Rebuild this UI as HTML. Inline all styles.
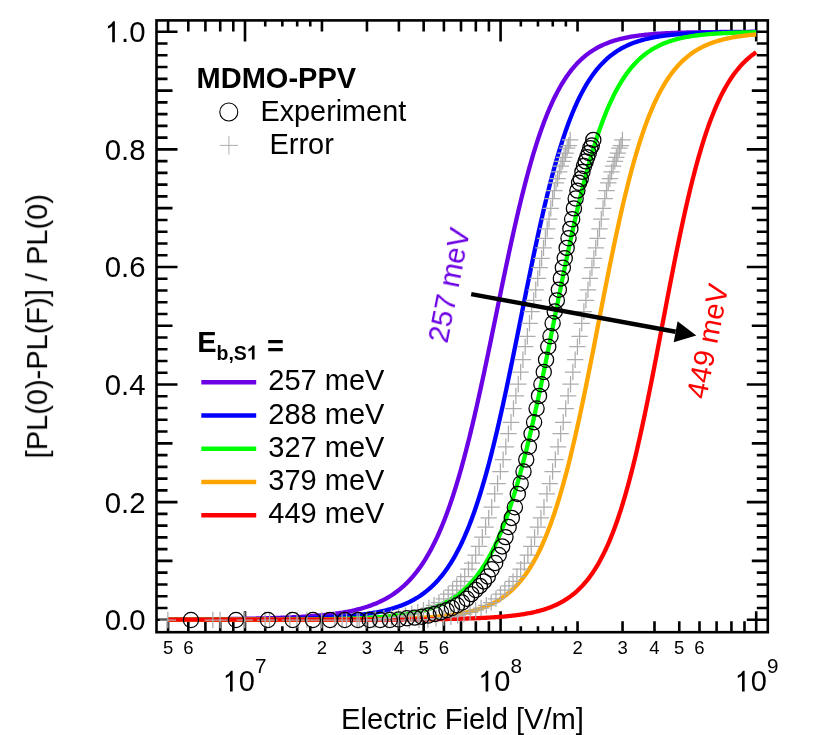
<!DOCTYPE html>
<html><head><meta charset="utf-8"><title>PL quenching</title>
<style>html,body{margin:0;padding:0;background:#fff;}svg{display:block;}</style>
</head><body>
<svg width="830" height="735" viewBox="0 0 830 735" font-family="'Liberation Sans', sans-serif">
<rect x="0" y="0" width="830" height="735" fill="#fff"/>
<rect x="156.5" y="20.4" width="611.3" height="611.8000000000001" fill="none" stroke="#000" stroke-width="2.6"/>
<path d="M156.5,619.70h21.0M767.8,619.70h-21.0M156.5,607.94h11.0M767.8,607.94h-11.0M156.5,596.18h11.0M767.8,596.18h-11.0M156.5,584.43h11.0M767.8,584.43h-11.0M156.5,572.67h11.0M767.8,572.67h-11.0M156.5,560.91h16.0M767.8,560.91h-16.0M156.5,549.15h11.0M767.8,549.15h-11.0M156.5,537.39h11.0M767.8,537.39h-11.0M156.5,525.64h11.0M767.8,525.64h-11.0M156.5,513.88h11.0M767.8,513.88h-11.0M156.5,502.12h21.0M767.8,502.12h-21.0M156.5,490.36h11.0M767.8,490.36h-11.0M156.5,478.60h11.0M767.8,478.60h-11.0M156.5,466.85h11.0M767.8,466.85h-11.0M156.5,455.09h11.0M767.8,455.09h-11.0M156.5,443.33h16.0M767.8,443.33h-16.0M156.5,431.57h11.0M767.8,431.57h-11.0M156.5,419.81h11.0M767.8,419.81h-11.0M156.5,408.06h11.0M767.8,408.06h-11.0M156.5,396.30h11.0M767.8,396.30h-11.0M156.5,384.54h21.0M767.8,384.54h-21.0M156.5,372.78h11.0M767.8,372.78h-11.0M156.5,361.02h11.0M767.8,361.02h-11.0M156.5,349.27h11.0M767.8,349.27h-11.0M156.5,337.51h11.0M767.8,337.51h-11.0M156.5,325.75h16.0M767.8,325.75h-16.0M156.5,313.99h11.0M767.8,313.99h-11.0M156.5,302.23h11.0M767.8,302.23h-11.0M156.5,290.48h11.0M767.8,290.48h-11.0M156.5,278.72h11.0M767.8,278.72h-11.0M156.5,266.96h21.0M767.8,266.96h-21.0M156.5,255.20h11.0M767.8,255.20h-11.0M156.5,243.44h11.0M767.8,243.44h-11.0M156.5,231.69h11.0M767.8,231.69h-11.0M156.5,219.93h11.0M767.8,219.93h-11.0M156.5,208.17h16.0M767.8,208.17h-16.0M156.5,196.41h11.0M767.8,196.41h-11.0M156.5,184.65h11.0M767.8,184.65h-11.0M156.5,172.90h11.0M767.8,172.90h-11.0M156.5,161.14h11.0M767.8,161.14h-11.0M156.5,149.38h21.0M767.8,149.38h-21.0M156.5,137.62h11.0M767.8,137.62h-11.0M156.5,125.86h11.0M767.8,125.86h-11.0M156.5,114.11h11.0M767.8,114.11h-11.0M156.5,102.35h11.0M767.8,102.35h-11.0M156.5,90.59h16.0M767.8,90.59h-16.0M156.5,78.83h11.0M767.8,78.83h-11.0M156.5,67.07h11.0M767.8,67.07h-11.0M156.5,55.32h11.0M767.8,55.32h-11.0M156.5,43.56h11.0M767.8,43.56h-11.0M156.5,31.80h21.0M767.8,31.80h-21.0M168.06,632.2v-11.0M168.06,20.4v11.0M188.30,632.2v-11.0M188.30,20.4v11.0M205.41,632.2v-11.0M205.41,20.4v11.0M220.23,632.2v-11.0M220.23,20.4v11.0M233.30,632.2v-11.0M233.30,20.4v11.0M245.00,632.2v-21.0M245.00,20.4v21.0M265.24,632.2v-6.0M265.24,20.4v6.0M282.35,632.2v-6.0M282.35,20.4v6.0M297.17,632.2v-6.0M297.17,20.4v6.0M310.25,632.2v-6.0M310.25,20.4v6.0M321.94,632.2v-11.0M321.94,20.4v11.0M366.95,632.2v-11.0M366.95,20.4v11.0M398.89,632.2v-11.0M398.89,20.4v11.0M423.66,632.2v-11.0M423.66,20.4v11.0M443.90,632.2v-11.0M443.90,20.4v11.0M461.01,632.2v-11.0M461.01,20.4v11.0M475.83,632.2v-11.0M475.83,20.4v11.0M488.90,632.2v-11.0M488.90,20.4v11.0M500.60,632.2v-21.0M500.60,20.4v21.0M520.84,632.2v-6.0M520.84,20.4v6.0M537.95,632.2v-6.0M537.95,20.4v6.0M552.77,632.2v-6.0M552.77,20.4v6.0M565.85,632.2v-6.0M565.85,20.4v6.0M577.54,632.2v-11.0M577.54,20.4v11.0M622.55,632.2v-11.0M622.55,20.4v11.0M654.49,632.2v-11.0M654.49,20.4v11.0M679.26,632.2v-11.0M679.26,20.4v11.0M699.50,632.2v-11.0M699.50,20.4v11.0M716.61,632.2v-11.0M716.61,20.4v11.0M731.43,632.2v-11.0M731.43,20.4v11.0M744.50,632.2v-11.0M744.50,20.4v11.0M756.20,632.2v-21.0M756.20,20.4v21.0" fill="none" stroke="#000" stroke-width="2.6"/>
<path d="M168.06,619.49 L169.24,619.49 L170.41,619.48 L171.59,619.48 L172.77,619.47 L173.95,619.47 L175.13,619.46 L176.31,619.46 L177.49,619.45 L178.66,619.45 L179.84,619.44 L181.02,619.43 L182.20,619.43 L183.38,619.42 L184.56,619.41 L185.74,619.41 L186.92,619.40 L188.09,619.39 L189.27,619.39 L190.45,619.38 L191.63,619.37 L192.81,619.36 L193.99,619.36 L195.17,619.35 L196.34,619.34 L197.52,619.33 L198.70,619.32 L199.88,619.31 L201.06,619.30 L202.24,619.29 L203.42,619.28 L204.59,619.27 L205.77,619.26 L206.95,619.25 L208.13,619.24 L209.31,619.23 L210.49,619.22 L211.67,619.21 L212.85,619.20 L214.02,619.19 L215.20,619.17 L216.38,619.16 L217.56,619.15 L218.74,619.14 L219.92,619.12 L221.10,619.11 L222.27,619.09 L223.45,619.08 L224.63,619.07 L225.81,619.05 L226.99,619.04 L228.17,619.02 L229.35,619.00 L230.52,618.99 L231.70,618.97 L232.88,618.95 L234.06,618.94 L235.24,618.92 L236.42,618.90 L237.60,618.88 L238.78,618.86 L239.95,618.84 L241.13,618.82 L242.31,618.80 L243.49,618.78 L244.67,618.76 L245.85,618.73 L247.03,618.71 L248.20,618.69 L249.38,618.66 L250.56,618.64 L251.74,618.61 L252.92,618.59 L254.10,618.56 L255.28,618.54 L256.46,618.51 L257.63,618.48 L258.81,618.45 L259.99,618.42 L261.17,618.39 L262.35,618.36 L263.53,618.33 L264.71,618.30 L265.88,618.26 L267.06,618.23 L268.24,618.19 L269.42,618.16 L270.60,618.12 L271.78,618.08 L272.96,618.05 L274.13,618.01 L275.31,617.97 L276.49,617.93 L277.67,617.88 L278.85,617.84 L280.03,617.80 L281.21,617.75 L282.39,617.71 L283.56,617.66 L284.74,617.61 L285.92,617.56 L287.10,617.51 L288.28,617.46 L289.46,617.41 L290.64,617.35 L291.81,617.30 L292.99,617.24 L294.17,617.18 L295.35,617.12 L296.53,617.06 L297.71,617.00 L298.89,616.94 L300.06,616.87 L301.24,616.80 L302.42,616.74 L303.60,616.66 L304.78,616.59 L305.96,616.52 L307.14,616.44 L308.32,616.36 L309.49,616.28 L310.67,616.19 L311.85,616.10 L313.03,616.02 L314.21,615.92 L315.39,615.83 L316.57,615.73 L317.74,615.63 L318.92,615.52 L320.10,615.42 L321.28,615.30 L322.46,615.19 L323.64,615.07 L324.82,614.95 L326.00,614.82 L327.17,614.70 L328.35,614.56 L329.53,614.42 L330.71,614.28 L331.89,614.14 L333.07,613.99 L334.25,613.83 L335.42,613.67 L336.60,613.50 L337.78,613.33 L338.96,613.16 L340.14,612.97 L341.32,612.79 L342.50,612.59 L343.67,612.39 L344.85,612.19 L346.03,611.97 L347.21,611.75 L348.39,611.52 L349.57,611.29 L350.75,611.05 L351.93,610.80 L353.10,610.54 L354.28,610.27 L355.46,610.00 L356.64,609.71 L357.82,609.42 L359.00,609.12 L360.18,608.80 L361.35,608.48 L362.53,608.14 L363.71,607.80 L364.89,607.44 L366.07,607.07 L367.25,606.69 L368.43,606.30 L369.60,605.89 L370.78,605.47 L371.96,605.04 L373.14,604.59 L374.32,604.12 L375.50,603.64 L376.68,603.15 L377.86,602.64 L379.03,602.11 L380.21,601.56 L381.39,601.00 L382.57,600.41 L383.75,599.81 L384.93,599.19 L386.11,598.54 L387.28,597.88 L388.46,597.19 L389.64,596.48 L390.82,595.74 L392.00,594.98 L393.18,594.20 L394.36,593.39 L395.53,592.55 L396.71,591.68 L397.89,590.79 L399.07,589.86 L400.25,588.91 L401.43,587.92 L402.61,586.90 L403.79,585.85 L404.96,584.76 L406.14,583.63 L407.32,582.47 L408.50,581.27 L409.68,580.04 L410.86,578.76 L412.04,577.44 L413.21,576.07 L414.39,574.67 L415.57,573.22 L416.75,571.72 L417.93,570.17 L419.11,568.58 L420.29,566.93 L421.47,565.23 L422.64,563.48 L423.82,561.68 L425.00,559.82 L426.18,557.90 L427.36,555.92 L428.54,553.88 L429.72,551.78 L430.89,549.62 L432.07,547.39 L433.25,545.10 L434.43,542.74 L435.61,540.31 L436.79,537.82 L437.97,535.25 L439.14,532.61 L440.32,529.89 L441.50,527.10 L442.68,524.23 L443.86,521.29 L445.04,518.27 L446.22,515.17 L447.40,511.99 L448.57,508.72 L449.75,505.38 L450.93,501.95 L452.11,498.44 L453.29,494.85 L454.47,491.17 L455.65,487.40 L456.82,483.55 L458.00,479.62 L459.18,475.60 L460.36,471.50 L461.54,467.31 L462.72,463.04 L463.90,458.69 L465.07,454.25 L466.25,449.73 L467.43,445.13 L468.61,440.45 L469.79,435.70 L470.97,430.87 L472.15,425.96 L473.33,420.98 L474.50,415.93 L475.68,410.82 L476.86,405.64 L478.04,400.39 L479.22,395.09 L480.40,389.73 L481.58,384.32 L482.75,378.86 L483.93,373.35 L485.11,367.80 L486.29,362.20 L487.47,356.58 L488.65,350.92 L489.83,345.24 L491.01,339.53 L492.18,333.80 L493.36,328.06 L494.54,322.32 L495.72,316.56 L496.90,310.81 L498.08,305.06 L499.26,299.31 L500.43,293.58 L501.61,287.87 L502.79,282.18 L503.97,276.52 L505.15,270.88 L506.33,265.29 L507.51,259.73 L508.68,254.21 L509.86,248.74 L511.04,243.32 L512.22,237.95 L513.40,232.64 L514.58,227.39 L515.76,222.21 L516.94,217.09 L518.11,212.05 L519.29,207.07 L520.47,202.17 L521.65,197.35 L522.83,192.61 L524.01,187.94 L525.19,183.37 L526.36,178.87 L527.54,174.46 L528.72,170.14 L529.90,165.90 L531.08,161.75 L532.26,157.70 L533.44,153.73 L534.61,149.85 L535.79,146.06 L536.97,142.36 L538.15,138.75 L539.33,135.23 L540.51,131.80 L541.69,128.46 L542.87,125.20 L544.04,122.04 L545.22,118.95 L546.40,115.96 L547.58,113.05 L548.76,110.22 L549.94,107.47 L551.12,104.80 L552.29,102.22 L553.47,99.71 L554.65,97.27 L555.83,94.92 L557.01,92.63 L558.19,90.42 L559.37,88.28 L560.55,86.21 L561.72,84.20 L562.90,82.26 L564.08,80.39 L565.26,78.58 L566.44,76.82 L567.62,75.13 L568.80,73.50 L569.97,71.92 L571.15,70.40 L572.33,68.93 L573.51,67.51 L574.69,66.14 L575.87,64.82 L577.05,63.55 L578.22,62.33 L579.40,61.14 L580.58,60.01 L581.76,58.91 L582.94,57.85 L584.12,56.84 L585.30,55.86 L586.48,54.91 L587.65,54.00 L588.83,53.13 L590.01,52.29 L591.19,51.48 L592.37,50.70 L593.55,49.95 L594.73,49.23 L595.90,48.54 L597.08,47.87 L598.26,47.23 L599.44,46.62 L600.62,46.02 L601.80,45.46 L602.98,44.91 L604.15,44.38 L605.33,43.88 L606.51,43.39 L607.69,42.93 L608.87,42.48 L610.05,42.05 L611.23,41.64 L612.41,41.24 L613.58,40.86 L614.76,40.49 L615.94,40.14 L617.12,39.81 L618.30,39.48 L619.48,39.17 L620.66,38.87 L621.83,38.59 L623.01,38.31 L624.19,38.05 L625.37,37.79 L626.55,37.55 L627.73,37.32 L628.91,37.09 L630.09,36.88 L631.26,36.67 L632.44,36.48 L633.62,36.29 L634.80,36.10 L635.98,35.93 L637.16,35.76 L638.34,35.60 L639.51,35.45 L640.69,35.30 L641.87,35.16 L643.05,35.02 L644.23,34.89 L645.41,34.76 L646.59,34.64 L647.76,34.53 L648.94,34.42 L650.12,34.31 L651.30,34.21 L652.48,34.11 L653.66,34.02 L654.84,33.93 L656.02,33.84 L657.19,33.76 L658.37,33.68 L659.55,33.60 L660.73,33.53 L661.91,33.46 L663.09,33.39 L664.27,33.33 L665.44,33.27 L666.62,33.21 L667.80,33.15 L668.98,33.10 L670.16,33.04 L671.34,32.99 L672.52,32.94 L673.69,32.90 L674.87,32.85 L676.05,32.81 L677.23,32.77 L678.41,32.73 L679.59,32.69 L680.77,32.66 L681.95,32.62 L683.12,32.59 L684.30,32.56 L685.48,32.53 L686.66,32.50 L687.84,32.47 L689.02,32.44 L690.20,32.42 L691.37,32.39 L692.55,32.37 L693.73,32.34 L694.91,32.32 L696.09,32.30 L697.27,32.28 L698.45,32.26 L699.63,32.24 L700.80,32.22 L701.98,32.21 L703.16,32.19 L704.34,32.17 L705.52,32.16 L706.70,32.14 L707.88,32.13 L709.05,32.12 L710.23,32.10 L711.41,32.09 L712.59,32.08 L713.77,32.07 L714.95,32.06 L716.13,32.05 L717.30,32.04 L718.48,32.03 L719.66,32.02 L720.84,32.01 L722.02,32.00 L723.20,31.99 L724.38,31.99 L725.56,31.98 L726.73,31.97 L727.91,31.96 L729.09,31.96 L730.27,31.95 L731.45,31.94 L732.63,31.94 L733.81,31.93 L734.98,31.93 L736.16,31.92 L737.34,31.92 L738.52,31.91 L739.70,31.91 L740.88,31.90 L742.06,31.90 L743.23,31.90 L744.41,31.89 L745.59,31.89 L746.77,31.88 L747.95,31.88 L749.13,31.88 L750.31,31.87 L751.49,31.87 L752.66,31.87 L753.84,31.87 L755.02,31.86 L756.20,31.86" fill="none" stroke="#6c00e4" stroke-width="4.3" stroke-linejoin="round"/>
<path d="M168.06,619.65 L169.24,619.65 L170.41,619.65 L171.59,619.65 L172.77,619.65 L173.95,619.65 L175.13,619.65 L176.31,619.64 L177.49,619.64 L178.66,619.64 L179.84,619.64 L181.02,619.64 L182.20,619.64 L183.38,619.63 L184.56,619.63 L185.74,619.63 L186.92,619.63 L188.09,619.63 L189.27,619.62 L190.45,619.62 L191.63,619.62 L192.81,619.62 L193.99,619.61 L195.17,619.61 L196.34,619.61 L197.52,619.61 L198.70,619.60 L199.88,619.60 L201.06,619.60 L202.24,619.59 L203.42,619.59 L204.59,619.59 L205.77,619.58 L206.95,619.58 L208.13,619.58 L209.31,619.57 L210.49,619.57 L211.67,619.57 L212.85,619.56 L214.02,619.56 L215.20,619.55 L216.38,619.55 L217.56,619.55 L218.74,619.54 L219.92,619.54 L221.10,619.53 L222.27,619.53 L223.45,619.52 L224.63,619.52 L225.81,619.51 L226.99,619.51 L228.17,619.50 L229.35,619.50 L230.52,619.49 L231.70,619.48 L232.88,619.48 L234.06,619.47 L235.24,619.46 L236.42,619.46 L237.60,619.45 L238.78,619.44 L239.95,619.43 L241.13,619.43 L242.31,619.42 L243.49,619.41 L244.67,619.40 L245.85,619.39 L247.03,619.38 L248.20,619.38 L249.38,619.37 L250.56,619.36 L251.74,619.35 L252.92,619.34 L254.10,619.33 L255.28,619.31 L256.46,619.30 L257.63,619.29 L258.81,619.28 L259.99,619.27 L261.17,619.26 L262.35,619.24 L263.53,619.23 L264.71,619.22 L265.88,619.20 L267.06,619.19 L268.24,619.17 L269.42,619.16 L270.60,619.14 L271.78,619.12 L272.96,619.11 L274.13,619.09 L275.31,619.07 L276.49,619.05 L277.67,619.04 L278.85,619.02 L280.03,619.00 L281.21,618.98 L282.39,618.95 L283.56,618.93 L284.74,618.91 L285.92,618.89 L287.10,618.86 L288.28,618.84 L289.46,618.81 L290.64,618.79 L291.81,618.76 L292.99,618.74 L294.17,618.71 L295.35,618.68 L296.53,618.65 L297.71,618.62 L298.89,618.59 L300.06,618.55 L301.24,618.52 L302.42,618.49 L303.60,618.45 L304.78,618.41 L305.96,618.38 L307.14,618.34 L308.32,618.30 L309.49,618.26 L310.67,618.22 L311.85,618.17 L313.03,618.13 L314.21,618.08 L315.39,618.04 L316.57,617.99 L317.74,617.94 L318.92,617.89 L320.10,617.83 L321.28,617.78 L322.46,617.72 L323.64,617.67 L324.82,617.61 L326.00,617.55 L327.17,617.49 L328.35,617.42 L329.53,617.35 L330.71,617.29 L331.89,617.22 L333.07,617.14 L334.25,617.07 L335.42,616.99 L336.60,616.92 L337.78,616.84 L338.96,616.75 L340.14,616.67 L341.32,616.58 L342.50,616.49 L343.67,616.40 L344.85,616.30 L346.03,616.20 L347.21,616.10 L348.39,616.00 L349.57,615.89 L350.75,615.78 L351.93,615.66 L353.10,615.55 L354.28,615.43 L355.46,615.30 L356.64,615.18 L357.82,615.05 L359.00,614.91 L360.18,614.77 L361.35,614.63 L362.53,614.48 L363.71,614.33 L364.89,614.17 L366.07,614.01 L367.25,613.84 L368.43,613.67 L369.60,613.49 L370.78,613.30 L371.96,613.11 L373.14,612.91 L374.32,612.71 L375.50,612.50 L376.68,612.28 L377.86,612.05 L379.03,611.81 L380.21,611.57 L381.39,611.32 L382.57,611.06 L383.75,610.79 L384.93,610.51 L386.11,610.23 L387.28,609.93 L388.46,609.62 L389.64,609.30 L390.82,608.97 L392.00,608.63 L393.18,608.28 L394.36,607.91 L395.53,607.54 L396.71,607.14 L397.89,606.74 L399.07,606.32 L400.25,605.89 L401.43,605.44 L402.61,604.97 L403.79,604.49 L404.96,604.00 L406.14,603.48 L407.32,602.95 L408.50,602.40 L409.68,601.82 L410.86,601.23 L412.04,600.62 L413.21,599.99 L414.39,599.33 L415.57,598.65 L416.75,597.95 L417.93,597.23 L419.11,596.47 L420.29,595.70 L421.47,594.89 L422.64,594.06 L423.82,593.19 L425.00,592.30 L426.18,591.38 L427.36,590.42 L428.54,589.43 L429.72,588.41 L430.89,587.35 L432.07,586.25 L433.25,585.12 L434.43,583.95 L435.61,582.74 L436.79,581.49 L437.97,580.19 L439.14,578.85 L440.32,577.47 L441.50,576.04 L442.68,574.56 L443.86,573.03 L445.04,571.45 L446.22,569.82 L447.40,568.14 L448.57,566.40 L449.75,564.60 L450.93,562.75 L452.11,560.83 L453.29,558.86 L454.47,556.82 L455.65,554.72 L456.82,552.55 L458.00,550.32 L459.18,548.02 L460.36,545.64 L461.54,543.20 L462.72,540.68 L463.90,538.09 L465.07,535.42 L466.25,532.67 L467.43,529.85 L468.61,526.94 L469.79,523.96 L470.97,520.89 L472.15,517.74 L473.33,514.50 L474.50,511.18 L475.68,507.77 L476.86,504.27 L478.04,500.69 L479.22,497.02 L480.40,493.26 L481.58,489.41 L482.75,485.47 L483.93,481.44 L485.11,477.33 L486.29,473.12 L487.47,468.82 L488.65,464.44 L489.83,459.97 L491.01,455.41 L492.18,450.77 L493.36,446.05 L494.54,441.24 L495.72,436.35 L496.90,431.38 L498.08,426.34 L499.26,421.22 L500.43,416.03 L501.61,410.77 L502.79,405.44 L503.97,400.05 L505.15,394.59 L506.33,389.08 L507.51,383.52 L508.68,377.91 L509.86,372.25 L511.04,366.55 L512.22,360.81 L513.40,355.04 L514.58,349.24 L515.76,343.42 L516.94,337.57 L518.11,331.71 L519.29,325.84 L520.47,319.97 L521.65,314.09 L522.83,308.22 L524.01,302.35 L525.19,296.50 L526.36,290.67 L527.54,284.86 L528.72,279.08 L529.90,273.33 L531.08,267.61 L532.26,261.94 L533.44,256.31 L534.61,250.74 L535.79,245.21 L536.97,239.74 L538.15,234.33 L539.33,228.99 L540.51,223.71 L541.69,218.51 L542.87,213.38 L544.04,208.32 L545.22,203.34 L546.40,198.44 L547.58,193.63 L548.76,188.90 L549.94,184.25 L551.12,179.70 L552.29,175.23 L553.47,170.85 L554.65,166.57 L555.83,162.37 L557.01,158.27 L558.19,154.26 L559.37,150.35 L560.55,146.52 L561.72,142.79 L562.90,139.16 L564.08,135.61 L565.26,132.16 L566.44,128.79 L567.62,125.52 L568.80,122.34 L569.97,119.24 L571.15,116.23 L572.33,113.31 L573.51,110.47 L574.69,107.72 L575.87,105.04 L577.05,102.45 L578.22,99.94 L579.40,97.51 L580.58,95.15 L581.76,92.86 L582.94,90.65 L584.12,88.51 L585.30,86.44 L586.48,84.44 L587.65,82.51 L588.83,80.63 L590.01,78.83 L591.19,77.08 L592.37,75.39 L593.55,73.76 L594.73,72.19 L595.90,70.68 L597.08,69.21 L598.26,67.80 L599.44,66.44 L600.62,65.12 L601.80,63.86 L602.98,62.64 L604.15,61.46 L605.33,60.33 L606.51,59.23 L607.69,58.18 L608.87,57.17 L610.05,56.19 L611.23,55.25 L612.41,54.35 L613.58,53.48 L614.76,52.64 L615.94,51.83 L617.12,51.06 L618.30,50.31 L619.48,49.59 L620.66,48.90 L621.83,48.24 L623.01,47.60 L624.19,46.98 L625.37,46.39 L626.55,45.82 L627.73,45.28 L628.91,44.75 L630.09,44.25 L631.26,43.76 L632.44,43.30 L633.62,42.85 L634.80,42.42 L635.98,42.00 L637.16,41.60 L638.34,41.22 L639.51,40.85 L640.69,40.50 L641.87,40.16 L643.05,39.83 L644.23,39.52 L645.41,39.22 L646.59,38.93 L647.76,38.65 L648.94,38.39 L650.12,38.13 L651.30,37.88 L652.48,37.65 L653.66,37.42 L654.84,37.20 L656.02,36.99 L657.19,36.79 L658.37,36.60 L659.55,36.41 L660.73,36.23 L661.91,36.06 L663.09,35.90 L664.27,35.74 L665.44,35.59 L666.62,35.44 L667.80,35.30 L668.98,35.16 L670.16,35.03 L671.34,34.91 L672.52,34.79 L673.69,34.67 L674.87,34.56 L676.05,34.46 L677.23,34.35 L678.41,34.25 L679.59,34.16 L680.77,34.07 L681.95,33.98 L683.12,33.90 L684.30,33.81 L685.48,33.74 L686.66,33.66 L687.84,33.59 L689.02,33.52 L690.20,33.45 L691.37,33.39 L692.55,33.33 L693.73,33.27 L694.91,33.21 L696.09,33.16 L697.27,33.10 L698.45,33.05 L699.63,33.01 L700.80,32.96 L701.98,32.91 L703.16,32.87 L704.34,32.83 L705.52,32.79 L706.70,32.75 L707.88,32.71 L709.05,32.68 L710.23,32.64 L711.41,32.61 L712.59,32.58 L713.77,32.55 L714.95,32.52 L716.13,32.49 L717.30,32.47 L718.48,32.44 L719.66,32.42 L720.84,32.39 L722.02,32.37 L723.20,32.35 L724.38,32.33 L725.56,32.30 L726.73,32.29 L727.91,32.27 L729.09,32.25 L730.27,32.23 L731.45,32.21 L732.63,32.20 L733.81,32.18 L734.98,32.17 L736.16,32.15 L737.34,32.14 L738.52,32.13 L739.70,32.11 L740.88,32.10 L742.06,32.09 L743.23,32.08 L744.41,32.07 L745.59,32.06 L746.77,32.05 L747.95,32.04 L749.13,32.03 L750.31,32.02 L751.49,32.01 L752.66,32.00 L753.84,32.00 L755.02,31.99 L756.20,31.98" fill="none" stroke="#0000ff" stroke-width="4.3" stroke-linejoin="round"/>
<path d="M168.06,619.69 L169.24,619.69 L170.41,619.69 L171.59,619.69 L172.77,619.69 L173.95,619.69 L175.13,619.69 L176.31,619.69 L177.49,619.69 L178.66,619.69 L179.84,619.69 L181.02,619.69 L182.20,619.69 L183.38,619.69 L184.56,619.69 L185.74,619.69 L186.92,619.69 L188.09,619.69 L189.27,619.69 L190.45,619.69 L191.63,619.69 L192.81,619.69 L193.99,619.69 L195.17,619.69 L196.34,619.69 L197.52,619.69 L198.70,619.69 L199.88,619.68 L201.06,619.68 L202.24,619.68 L203.42,619.68 L204.59,619.68 L205.77,619.68 L206.95,619.68 L208.13,619.68 L209.31,619.68 L210.49,619.68 L211.67,619.68 L212.85,619.68 L214.02,619.68 L215.20,619.68 L216.38,619.68 L217.56,619.67 L218.74,619.67 L219.92,619.67 L221.10,619.67 L222.27,619.67 L223.45,619.67 L224.63,619.67 L225.81,619.67 L226.99,619.67 L228.17,619.67 L229.35,619.66 L230.52,619.66 L231.70,619.66 L232.88,619.66 L234.06,619.66 L235.24,619.66 L236.42,619.66 L237.60,619.65 L238.78,619.65 L239.95,619.65 L241.13,619.65 L242.31,619.65 L243.49,619.65 L244.67,619.64 L245.85,619.64 L247.03,619.64 L248.20,619.64 L249.38,619.64 L250.56,619.63 L251.74,619.63 L252.92,619.63 L254.10,619.63 L255.28,619.63 L256.46,619.62 L257.63,619.62 L258.81,619.62 L259.99,619.61 L261.17,619.61 L262.35,619.61 L263.53,619.61 L264.71,619.60 L265.88,619.60 L267.06,619.60 L268.24,619.59 L269.42,619.59 L270.60,619.58 L271.78,619.58 L272.96,619.58 L274.13,619.57 L275.31,619.57 L276.49,619.56 L277.67,619.56 L278.85,619.55 L280.03,619.55 L281.21,619.54 L282.39,619.54 L283.56,619.53 L284.74,619.53 L285.92,619.52 L287.10,619.51 L288.28,619.51 L289.46,619.50 L290.64,619.49 L291.81,619.49 L292.99,619.48 L294.17,619.47 L295.35,619.46 L296.53,619.46 L297.71,619.45 L298.89,619.44 L300.06,619.43 L301.24,619.42 L302.42,619.41 L303.60,619.40 L304.78,619.39 L305.96,619.38 L307.14,619.37 L308.32,619.36 L309.49,619.35 L310.67,619.34 L311.85,619.32 L313.03,619.31 L314.21,619.30 L315.39,619.28 L316.57,619.27 L317.74,619.25 L318.92,619.24 L320.10,619.22 L321.28,619.21 L322.46,619.19 L323.64,619.17 L324.82,619.16 L326.00,619.14 L327.17,619.12 L328.35,619.10 L329.53,619.08 L330.71,619.06 L331.89,619.03 L333.07,619.01 L334.25,618.99 L335.42,618.96 L336.60,618.94 L337.78,618.91 L338.96,618.89 L340.14,618.86 L341.32,618.83 L342.50,618.80 L343.67,618.77 L344.85,618.74 L346.03,618.70 L347.21,618.67 L348.39,618.63 L349.57,618.60 L350.75,618.56 L351.93,618.52 L353.10,618.48 L354.28,618.44 L355.46,618.40 L356.64,618.35 L357.82,618.31 L359.00,618.26 L360.18,618.21 L361.35,618.16 L362.53,618.11 L363.71,618.05 L364.89,618.00 L366.07,617.94 L367.25,617.88 L368.43,617.82 L369.60,617.75 L370.78,617.68 L371.96,617.62 L373.14,617.54 L374.32,617.47 L375.50,617.40 L376.68,617.32 L377.86,617.24 L379.03,617.15 L380.21,617.07 L381.39,616.98 L382.57,616.88 L383.75,616.79 L384.93,616.69 L386.11,616.59 L387.28,616.48 L388.46,616.37 L389.64,616.26 L390.82,616.14 L392.00,616.02 L393.18,615.89 L394.36,615.77 L395.53,615.63 L396.71,615.49 L397.89,615.35 L399.07,615.20 L400.25,615.05 L401.43,614.89 L402.61,614.73 L403.79,614.56 L404.96,614.38 L406.14,614.20 L407.32,614.01 L408.50,613.82 L409.68,613.62 L410.86,613.41 L412.04,613.19 L413.21,612.97 L414.39,612.73 L415.57,612.49 L416.75,612.24 L417.93,611.98 L419.11,611.72 L420.29,611.44 L421.47,611.15 L422.64,610.85 L423.82,610.54 L425.00,610.22 L426.18,609.89 L427.36,609.54 L428.54,609.19 L429.72,608.82 L430.89,608.44 L432.07,608.04 L433.25,607.63 L434.43,607.20 L435.61,606.76 L436.79,606.30 L437.97,605.83 L439.14,605.34 L440.32,604.83 L441.50,604.30 L442.68,603.75 L443.86,603.19 L445.04,602.60 L446.22,601.99 L447.40,601.36 L448.57,600.71 L449.75,600.03 L450.93,599.33 L452.11,598.60 L453.29,597.85 L454.47,597.07 L455.65,596.26 L456.82,595.43 L458.00,594.56 L459.18,593.67 L460.36,592.74 L461.54,591.78 L462.72,590.78 L463.90,589.75 L465.07,588.68 L466.25,587.58 L467.43,586.44 L468.61,585.26 L469.79,584.03 L470.97,582.77 L472.15,581.46 L473.33,580.10 L474.50,578.70 L475.68,577.25 L476.86,575.75 L478.04,574.21 L479.22,572.61 L480.40,570.95 L481.58,569.24 L482.75,567.48 L483.93,565.65 L485.11,563.77 L486.29,561.83 L487.47,559.82 L488.65,557.75 L489.83,555.61 L491.01,553.41 L492.18,551.14 L493.36,548.80 L494.54,546.38 L495.72,543.89 L496.90,541.33 L498.08,538.69 L499.26,535.98 L500.43,533.18 L501.61,530.31 L502.79,527.35 L503.97,524.31 L505.15,521.19 L506.33,517.98 L507.51,514.69 L508.68,511.31 L509.86,507.84 L511.04,504.28 L512.22,500.64 L513.40,496.90 L514.58,493.08 L515.76,489.16 L516.94,485.16 L518.11,481.06 L519.29,476.88 L520.47,472.60 L521.65,468.24 L522.83,463.79 L524.01,459.25 L525.19,454.62 L526.36,449.91 L527.54,445.12 L528.72,440.24 L529.90,435.28 L531.08,430.25 L532.26,425.13 L533.44,419.95 L534.61,414.69 L535.79,409.36 L536.97,403.97 L538.15,398.51 L539.33,393.00 L540.51,387.43 L541.69,381.81 L542.87,376.14 L544.04,370.43 L545.22,364.67 L546.40,358.88 L547.58,353.06 L548.76,347.21 L549.94,341.34 L551.12,335.45 L552.29,329.55 L553.47,323.64 L554.65,317.73 L555.83,311.82 L557.01,305.92 L558.19,300.02 L559.37,294.14 L560.55,288.29 L561.72,282.45 L562.90,276.65 L564.08,270.89 L565.26,265.16 L566.44,259.47 L567.62,253.83 L568.80,248.25 L569.97,242.72 L571.15,237.24 L572.33,231.83 L573.51,226.49 L574.69,221.22 L575.87,216.01 L577.05,210.89 L578.22,205.84 L579.40,200.87 L580.58,195.98 L581.76,191.17 L582.94,186.46 L584.12,181.83 L585.30,177.29 L586.48,172.83 L587.65,168.48 L588.83,164.21 L590.01,160.03 L591.19,155.95 L592.37,151.96 L593.55,148.07 L594.73,144.27 L595.90,140.56 L597.08,136.94 L598.26,133.42 L599.44,129.99 L600.62,126.65 L601.80,123.40 L602.98,120.24 L604.15,117.17 L605.33,114.19 L606.51,111.29 L607.69,108.48 L608.87,105.75 L610.05,103.10 L611.23,100.54 L612.41,98.05 L613.58,95.64 L614.76,93.31 L615.94,91.05 L617.12,88.86 L618.30,86.75 L619.48,84.70 L620.66,82.73 L621.83,80.82 L623.01,78.97 L624.19,77.19 L625.37,75.46 L626.55,73.80 L627.73,72.20 L628.91,70.65 L630.09,69.15 L631.26,67.71 L632.44,66.32 L633.62,64.98 L634.80,63.69 L635.98,62.45 L637.16,61.25 L638.34,60.09 L639.51,58.98 L640.69,57.91 L641.87,56.88 L643.05,55.89 L644.23,54.93 L645.41,54.02 L646.59,53.13 L647.76,52.28 L648.94,51.46 L650.12,50.68 L651.30,49.92 L652.48,49.19 L653.66,48.49 L654.84,47.82 L656.02,47.18 L657.19,46.55 L658.37,45.96 L659.55,45.39 L660.73,44.83 L661.91,44.31 L663.09,43.80 L664.27,43.31 L665.44,42.84 L666.62,42.39 L667.80,41.96 L668.98,41.54 L670.16,41.15 L671.34,40.76 L672.52,40.40 L673.69,40.04 L674.87,39.71 L676.05,39.38 L677.23,39.07 L678.41,38.77 L679.59,38.48 L680.77,38.21 L681.95,37.95 L683.12,37.69 L684.30,37.45 L685.48,37.22 L686.66,36.99 L687.84,36.78 L689.02,36.57 L690.20,36.38 L691.37,36.19 L692.55,36.00 L693.73,35.83 L694.91,35.66 L696.09,35.50 L697.27,35.35 L698.45,35.20 L699.63,35.06 L700.80,34.93 L701.98,34.80 L703.16,34.67 L704.34,34.55 L705.52,34.44 L706.70,34.33 L707.88,34.22 L709.05,34.12 L710.23,34.03 L711.41,33.93 L712.59,33.85 L713.77,33.76 L714.95,33.68 L716.13,33.60 L717.30,33.53 L718.48,33.45 L719.66,33.39 L720.84,33.32 L722.02,33.26 L723.20,33.20 L724.38,33.14 L725.56,33.08 L726.73,33.03 L727.91,32.98 L729.09,32.93 L730.27,32.88 L731.45,32.84 L732.63,32.79 L733.81,32.75 L734.98,32.71 L736.16,32.67 L737.34,32.64 L738.52,32.60 L739.70,32.57 L740.88,32.54 L742.06,32.51 L743.23,32.48 L744.41,32.45 L745.59,32.42 L746.77,32.40 L747.95,32.37 L749.13,32.35 L750.31,32.32 L751.49,32.30 L752.66,32.28 L753.84,32.26 L755.02,32.24 L756.20,32.22" fill="none" stroke="#00ff00" stroke-width="4.3" stroke-linejoin="round"/>
<path d="M168.06,619.70 L169.24,619.70 L170.41,619.70 L171.59,619.70 L172.77,619.70 L173.95,619.70 L175.13,619.70 L176.31,619.70 L177.49,619.70 L178.66,619.70 L179.84,619.70 L181.02,619.70 L182.20,619.70 L183.38,619.70 L184.56,619.70 L185.74,619.70 L186.92,619.70 L188.09,619.70 L189.27,619.70 L190.45,619.70 L191.63,619.70 L192.81,619.70 L193.99,619.70 L195.17,619.70 L196.34,619.70 L197.52,619.70 L198.70,619.70 L199.88,619.70 L201.06,619.70 L202.24,619.70 L203.42,619.70 L204.59,619.70 L205.77,619.70 L206.95,619.70 L208.13,619.70 L209.31,619.69 L210.49,619.69 L211.67,619.69 L212.85,619.69 L214.02,619.69 L215.20,619.69 L216.38,619.69 L217.56,619.69 L218.74,619.69 L219.92,619.69 L221.10,619.69 L222.27,619.69 L223.45,619.69 L224.63,619.69 L225.81,619.69 L226.99,619.69 L228.17,619.69 L229.35,619.69 L230.52,619.69 L231.70,619.69 L232.88,619.69 L234.06,619.69 L235.24,619.69 L236.42,619.69 L237.60,619.69 L238.78,619.69 L239.95,619.69 L241.13,619.69 L242.31,619.69 L243.49,619.69 L244.67,619.69 L245.85,619.69 L247.03,619.69 L248.20,619.69 L249.38,619.68 L250.56,619.68 L251.74,619.68 L252.92,619.68 L254.10,619.68 L255.28,619.68 L256.46,619.68 L257.63,619.68 L258.81,619.68 L259.99,619.68 L261.17,619.68 L262.35,619.68 L263.53,619.68 L264.71,619.68 L265.88,619.68 L267.06,619.67 L268.24,619.67 L269.42,619.67 L270.60,619.67 L271.78,619.67 L272.96,619.67 L274.13,619.67 L275.31,619.67 L276.49,619.67 L277.67,619.67 L278.85,619.66 L280.03,619.66 L281.21,619.66 L282.39,619.66 L283.56,619.66 L284.74,619.66 L285.92,619.66 L287.10,619.66 L288.28,619.65 L289.46,619.65 L290.64,619.65 L291.81,619.65 L292.99,619.65 L294.17,619.65 L295.35,619.64 L296.53,619.64 L297.71,619.64 L298.89,619.64 L300.06,619.64 L301.24,619.63 L302.42,619.63 L303.60,619.63 L304.78,619.63 L305.96,619.62 L307.14,619.62 L308.32,619.62 L309.49,619.62 L310.67,619.61 L311.85,619.61 L313.03,619.61 L314.21,619.60 L315.39,619.60 L316.57,619.60 L317.74,619.59 L318.92,619.59 L320.10,619.59 L321.28,619.58 L322.46,619.58 L323.64,619.57 L324.82,619.57 L326.00,619.57 L327.17,619.56 L328.35,619.56 L329.53,619.55 L330.71,619.55 L331.89,619.54 L333.07,619.54 L334.25,619.53 L335.42,619.53 L336.60,619.52 L337.78,619.51 L338.96,619.51 L340.14,619.50 L341.32,619.49 L342.50,619.49 L343.67,619.48 L344.85,619.47 L346.03,619.46 L347.21,619.46 L348.39,619.45 L349.57,619.44 L350.75,619.43 L351.93,619.42 L353.10,619.41 L354.28,619.40 L355.46,619.39 L356.64,619.38 L357.82,619.37 L359.00,619.36 L360.18,619.35 L361.35,619.34 L362.53,619.32 L363.71,619.31 L364.89,619.30 L366.07,619.29 L367.25,619.27 L368.43,619.26 L369.60,619.24 L370.78,619.23 L371.96,619.21 L373.14,619.19 L374.32,619.18 L375.50,619.16 L376.68,619.14 L377.86,619.12 L379.03,619.10 L380.21,619.08 L381.39,619.06 L382.57,619.04 L383.75,619.02 L384.93,619.00 L386.11,618.97 L387.28,618.95 L388.46,618.92 L389.64,618.90 L390.82,618.87 L392.00,618.84 L393.18,618.81 L394.36,618.78 L395.53,618.75 L396.71,618.72 L397.89,618.68 L399.07,618.65 L400.25,618.62 L401.43,618.58 L402.61,618.54 L403.79,618.50 L404.96,618.46 L406.14,618.42 L407.32,618.38 L408.50,618.33 L409.68,618.29 L410.86,618.24 L412.04,618.19 L413.21,618.14 L414.39,618.09 L415.57,618.03 L416.75,617.98 L417.93,617.92 L419.11,617.86 L420.29,617.80 L421.47,617.73 L422.64,617.66 L423.82,617.60 L425.00,617.53 L426.18,617.45 L427.36,617.38 L428.54,617.30 L429.72,617.22 L430.89,617.13 L432.07,617.05 L433.25,616.96 L434.43,616.86 L435.61,616.77 L436.79,616.67 L437.97,616.56 L439.14,616.45 L440.32,616.34 L441.50,616.23 L442.68,616.11 L443.86,615.98 L445.04,615.85 L446.22,615.72 L447.40,615.58 L448.57,615.43 L449.75,615.28 L450.93,615.13 L452.11,614.97 L453.29,614.80 L454.47,614.62 L455.65,614.44 L456.82,614.26 L458.00,614.06 L459.18,613.86 L460.36,613.65 L461.54,613.43 L462.72,613.21 L463.90,612.97 L465.07,612.73 L466.25,612.48 L467.43,612.22 L468.61,611.94 L469.79,611.66 L470.97,611.37 L472.15,611.06 L473.33,610.75 L474.50,610.42 L475.68,610.08 L476.86,609.73 L478.04,609.36 L479.22,608.98 L480.40,608.58 L481.58,608.17 L482.75,607.74 L483.93,607.30 L485.11,606.84 L486.29,606.36 L487.47,605.87 L488.65,605.35 L489.83,604.82 L491.01,604.27 L492.18,603.69 L493.36,603.09 L494.54,602.47 L495.72,601.83 L496.90,601.16 L498.08,600.47 L499.26,599.75 L500.43,599.00 L501.61,598.22 L502.79,597.42 L503.97,596.58 L505.15,595.72 L506.33,594.82 L507.51,593.88 L508.68,592.92 L509.86,591.91 L511.04,590.87 L512.22,589.79 L513.40,588.67 L514.58,587.51 L515.76,586.31 L516.94,585.06 L518.11,583.77 L519.29,582.43 L520.47,581.05 L521.65,579.61 L522.83,578.12 L524.01,576.58 L525.19,574.99 L526.36,573.33 L527.54,571.62 L528.72,569.85 L529.90,568.02 L531.08,566.13 L532.26,564.17 L533.44,562.15 L534.61,560.06 L535.79,557.90 L536.97,555.66 L538.15,553.36 L539.33,550.98 L540.51,548.52 L541.69,545.99 L542.87,543.37 L544.04,540.67 L545.22,537.90 L546.40,535.03 L547.58,532.08 L548.76,529.05 L549.94,525.92 L551.12,522.71 L552.29,519.40 L553.47,516.01 L554.65,512.52 L555.83,508.93 L557.01,505.26 L558.19,501.48 L559.37,497.61 L560.55,493.65 L561.72,489.59 L562.90,485.43 L564.08,481.18 L565.26,476.83 L566.44,472.39 L567.62,467.85 L568.80,463.22 L569.97,458.50 L571.15,453.69 L572.33,448.79 L573.51,443.80 L574.69,438.72 L575.87,433.56 L577.05,428.32 L578.22,423.00 L579.40,417.61 L580.58,412.15 L581.76,406.61 L582.94,401.01 L584.12,395.35 L585.30,389.63 L586.48,383.85 L587.65,378.03 L588.83,372.16 L590.01,366.25 L591.19,360.30 L592.37,354.33 L593.55,348.32 L594.73,342.30 L595.90,336.26 L597.08,330.21 L598.26,324.15 L599.44,318.09 L600.62,312.04 L601.80,306.00 L602.98,299.97 L604.15,293.96 L605.33,287.98 L606.51,282.03 L607.69,276.11 L608.87,270.24 L610.05,264.41 L611.23,258.62 L612.41,252.89 L613.58,247.22 L614.76,241.61 L615.94,236.07 L617.12,230.60 L618.30,225.19 L619.48,219.87 L620.66,214.62 L621.83,209.45 L623.01,204.37 L624.19,199.37 L625.37,194.46 L626.55,189.64 L627.73,184.92 L628.91,180.28 L630.09,175.74 L631.26,171.30 L632.44,166.95 L633.62,162.70 L634.80,158.54 L635.98,154.48 L637.16,150.52 L638.34,146.66 L639.51,142.89 L640.69,139.22 L641.87,135.65 L643.05,132.16 L644.23,128.78 L645.41,125.49 L646.59,122.28 L647.76,119.17 L648.94,116.15 L650.12,113.22 L651.30,110.38 L652.48,107.62 L653.66,104.94 L654.84,102.35 L656.02,99.84 L657.19,97.41 L658.37,95.05 L659.55,92.77 L660.73,90.56 L661.91,88.43 L663.09,86.37 L664.27,84.37 L665.44,82.45 L666.62,80.58 L667.80,78.78 L668.98,77.05 L670.16,75.37 L671.34,73.75 L672.52,72.19 L673.69,70.68 L674.87,69.23 L676.05,67.83 L677.23,66.47 L678.41,65.17 L679.59,63.92 L680.77,62.70 L681.95,61.54 L683.12,60.41 L684.30,59.33 L685.48,58.29 L686.66,57.28 L687.84,56.32 L689.02,55.38 L690.20,54.49 L691.37,53.62 L692.55,52.79 L693.73,51.99 L694.91,51.22 L696.09,50.48 L697.27,49.77 L698.45,49.09 L699.63,48.43 L700.80,47.79 L701.98,47.18 L703.16,46.59 L704.34,46.03 L705.52,45.49 L706.70,44.97 L707.88,44.46 L709.05,43.98 L710.23,43.52 L711.41,43.07 L712.59,42.64 L713.77,42.23 L714.95,41.83 L716.13,41.45 L717.30,41.08 L718.48,40.73 L719.66,40.39 L720.84,40.06 L722.02,39.75 L723.20,39.45 L724.38,39.16 L725.56,38.88 L726.73,38.61 L727.91,38.36 L729.09,38.11 L730.27,37.87 L731.45,37.64 L732.63,37.42 L733.81,37.21 L734.98,37.01 L736.16,36.81 L737.34,36.63 L738.52,36.45 L739.70,36.27 L740.88,36.11 L742.06,35.95 L743.23,35.79 L744.41,35.64 L745.59,35.50 L746.77,35.36 L747.95,35.23 L749.13,35.10 L750.31,34.98 L751.49,34.87 L752.66,34.75 L753.84,34.64 L755.02,34.54 L756.20,34.44" fill="none" stroke="#ffa500" stroke-width="4.3" stroke-linejoin="round"/>
<path d="M168.06,619.70 L169.24,619.70 L170.41,619.70 L171.59,619.70 L172.77,619.70 L173.95,619.70 L175.13,619.70 L176.31,619.70 L177.49,619.70 L178.66,619.70 L179.84,619.70 L181.02,619.70 L182.20,619.70 L183.38,619.70 L184.56,619.70 L185.74,619.70 L186.92,619.70 L188.09,619.70 L189.27,619.70 L190.45,619.70 L191.63,619.70 L192.81,619.70 L193.99,619.70 L195.17,619.70 L196.34,619.70 L197.52,619.70 L198.70,619.70 L199.88,619.70 L201.06,619.70 L202.24,619.70 L203.42,619.70 L204.59,619.70 L205.77,619.70 L206.95,619.70 L208.13,619.70 L209.31,619.70 L210.49,619.70 L211.67,619.70 L212.85,619.70 L214.02,619.70 L215.20,619.70 L216.38,619.70 L217.56,619.70 L218.74,619.70 L219.92,619.70 L221.10,619.70 L222.27,619.70 L223.45,619.70 L224.63,619.70 L225.81,619.70 L226.99,619.70 L228.17,619.70 L229.35,619.70 L230.52,619.70 L231.70,619.70 L232.88,619.70 L234.06,619.70 L235.24,619.70 L236.42,619.70 L237.60,619.70 L238.78,619.70 L239.95,619.70 L241.13,619.70 L242.31,619.70 L243.49,619.70 L244.67,619.70 L245.85,619.70 L247.03,619.70 L248.20,619.70 L249.38,619.70 L250.56,619.70 L251.74,619.70 L252.92,619.70 L254.10,619.70 L255.28,619.70 L256.46,619.70 L257.63,619.69 L258.81,619.69 L259.99,619.69 L261.17,619.69 L262.35,619.69 L263.53,619.69 L264.71,619.69 L265.88,619.69 L267.06,619.69 L268.24,619.69 L269.42,619.69 L270.60,619.69 L271.78,619.69 L272.96,619.69 L274.13,619.69 L275.31,619.69 L276.49,619.69 L277.67,619.69 L278.85,619.69 L280.03,619.69 L281.21,619.69 L282.39,619.69 L283.56,619.69 L284.74,619.69 L285.92,619.69 L287.10,619.69 L288.28,619.69 L289.46,619.69 L290.64,619.69 L291.81,619.69 L292.99,619.69 L294.17,619.69 L295.35,619.69 L296.53,619.69 L297.71,619.69 L298.89,619.69 L300.06,619.68 L301.24,619.68 L302.42,619.68 L303.60,619.68 L304.78,619.68 L305.96,619.68 L307.14,619.68 L308.32,619.68 L309.49,619.68 L310.67,619.68 L311.85,619.68 L313.03,619.68 L314.21,619.68 L315.39,619.68 L316.57,619.68 L317.74,619.68 L318.92,619.67 L320.10,619.67 L321.28,619.67 L322.46,619.67 L323.64,619.67 L324.82,619.67 L326.00,619.67 L327.17,619.67 L328.35,619.67 L329.53,619.67 L330.71,619.67 L331.89,619.66 L333.07,619.66 L334.25,619.66 L335.42,619.66 L336.60,619.66 L337.78,619.66 L338.96,619.66 L340.14,619.66 L341.32,619.65 L342.50,619.65 L343.67,619.65 L344.85,619.65 L346.03,619.65 L347.21,619.65 L348.39,619.65 L349.57,619.64 L350.75,619.64 L351.93,619.64 L353.10,619.64 L354.28,619.64 L355.46,619.63 L356.64,619.63 L357.82,619.63 L359.00,619.63 L360.18,619.63 L361.35,619.62 L362.53,619.62 L363.71,619.62 L364.89,619.62 L366.07,619.61 L367.25,619.61 L368.43,619.61 L369.60,619.61 L370.78,619.60 L371.96,619.60 L373.14,619.60 L374.32,619.59 L375.50,619.59 L376.68,619.59 L377.86,619.58 L379.03,619.58 L380.21,619.58 L381.39,619.57 L382.57,619.57 L383.75,619.56 L384.93,619.56 L386.11,619.56 L387.28,619.55 L388.46,619.55 L389.64,619.54 L390.82,619.54 L392.00,619.53 L393.18,619.53 L394.36,619.52 L395.53,619.51 L396.71,619.51 L397.89,619.50 L399.07,619.50 L400.25,619.49 L401.43,619.48 L402.61,619.48 L403.79,619.47 L404.96,619.46 L406.14,619.46 L407.32,619.45 L408.50,619.44 L409.68,619.43 L410.86,619.42 L412.04,619.42 L413.21,619.41 L414.39,619.40 L415.57,619.39 L416.75,619.38 L417.93,619.37 L419.11,619.36 L420.29,619.35 L421.47,619.34 L422.64,619.32 L423.82,619.31 L425.00,619.30 L426.18,619.29 L427.36,619.28 L428.54,619.26 L429.72,619.25 L430.89,619.23 L432.07,619.22 L433.25,619.20 L434.43,619.19 L435.61,619.17 L436.79,619.16 L437.97,619.14 L439.14,619.12 L440.32,619.10 L441.50,619.09 L442.68,619.07 L443.86,619.05 L445.04,619.03 L446.22,619.01 L447.40,618.98 L448.57,618.96 L449.75,618.94 L450.93,618.92 L452.11,618.89 L453.29,618.87 L454.47,618.84 L455.65,618.81 L456.82,618.78 L458.00,618.76 L459.18,618.73 L460.36,618.70 L461.54,618.67 L462.72,618.63 L463.90,618.60 L465.07,618.57 L466.25,618.53 L467.43,618.49 L468.61,618.46 L469.79,618.42 L470.97,618.38 L472.15,618.34 L473.33,618.29 L474.50,618.25 L475.68,618.20 L476.86,618.16 L478.04,618.11 L479.22,618.06 L480.40,618.01 L481.58,617.96 L482.75,617.90 L483.93,617.85 L485.11,617.79 L486.29,617.73 L487.47,617.67 L488.65,617.60 L489.83,617.54 L491.01,617.47 L492.18,617.40 L493.36,617.33 L494.54,617.25 L495.72,617.17 L496.90,617.09 L498.08,617.01 L499.26,616.92 L500.43,616.83 L501.61,616.73 L502.79,616.64 L503.97,616.53 L505.15,616.43 L506.33,616.32 L507.51,616.21 L508.68,616.09 L509.86,615.97 L511.04,615.84 L512.22,615.71 L513.40,615.57 L514.58,615.43 L515.76,615.29 L516.94,615.13 L518.11,614.98 L519.29,614.81 L520.47,614.64 L521.65,614.47 L522.83,614.28 L524.01,614.09 L525.19,613.90 L526.36,613.69 L527.54,613.48 L528.72,613.26 L529.90,613.03 L531.08,612.79 L532.26,612.54 L533.44,612.29 L534.61,612.02 L535.79,611.74 L536.97,611.45 L538.15,611.15 L539.33,610.84 L540.51,610.52 L541.69,610.18 L542.87,609.84 L544.04,609.47 L545.22,609.10 L546.40,608.71 L547.58,608.30 L548.76,607.88 L549.94,607.44 L551.12,606.99 L552.29,606.51 L553.47,606.02 L554.65,605.51 L555.83,604.98 L557.01,604.43 L558.19,603.85 L559.37,603.26 L560.55,602.64 L561.72,602.00 L562.90,601.33 L564.08,600.64 L565.26,599.92 L566.44,599.17 L567.62,598.39 L568.80,597.59 L569.97,596.75 L571.15,595.88 L572.33,594.97 L573.51,594.04 L574.69,593.06 L575.87,592.05 L577.05,591.00 L578.22,589.91 L579.40,588.78 L580.58,587.60 L581.76,586.39 L582.94,585.12 L584.12,583.81 L585.30,582.45 L586.48,581.04 L587.65,579.58 L588.83,578.06 L590.01,576.49 L591.19,574.86 L592.37,573.17 L593.55,571.42 L594.73,569.61 L595.90,567.74 L597.08,565.80 L598.26,563.79 L599.44,561.71 L600.62,559.56 L601.80,557.33 L602.98,555.03 L604.15,552.66 L605.33,550.20 L606.51,547.66 L607.69,545.04 L608.87,542.34 L610.05,539.55 L611.23,536.67 L612.41,533.70 L613.58,530.65 L614.76,527.50 L615.94,524.25 L617.12,520.91 L618.30,517.47 L619.48,513.94 L620.66,510.31 L621.83,506.58 L623.01,502.75 L624.19,498.81 L625.37,494.78 L626.55,490.65 L627.73,486.41 L628.91,482.08 L630.09,477.64 L631.26,473.10 L632.44,468.46 L633.62,463.73 L634.80,458.90 L635.98,453.97 L637.16,448.94 L638.34,443.83 L639.51,438.62 L640.69,433.33 L641.87,427.95 L643.05,422.49 L644.23,416.95 L645.41,411.33 L646.59,405.65 L647.76,399.89 L648.94,394.07 L650.12,388.19 L651.30,382.25 L652.48,376.27 L653.66,370.23 L654.84,364.16 L656.02,358.05 L657.19,351.91 L658.37,345.75 L659.55,339.56 L660.73,333.36 L661.91,327.16 L663.09,320.95 L664.27,314.74 L665.44,308.54 L666.62,302.36 L667.80,296.20 L668.98,290.06 L670.16,283.95 L671.34,277.88 L672.52,271.85 L673.69,265.87 L674.87,259.94 L676.05,254.06 L677.23,248.25 L678.41,242.49 L679.59,236.81 L680.77,231.20 L681.95,225.67 L683.12,220.22 L684.30,214.85 L685.48,209.56 L686.66,204.37 L687.84,199.26 L689.02,194.25 L690.20,189.33 L691.37,184.52 L692.55,179.79 L693.73,175.17 L694.91,170.65 L696.09,166.23 L697.27,161.91 L698.45,157.69 L699.63,153.58 L700.80,149.57 L701.98,145.66 L703.16,141.85 L704.34,138.14 L705.52,134.53 L706.70,131.02 L707.88,127.61 L709.05,124.29 L710.23,121.08 L711.41,117.95 L712.59,114.92 L713.77,111.98 L714.95,109.13 L716.13,106.37 L717.30,103.70 L718.48,101.11 L719.66,98.60 L720.84,96.18 L722.02,93.84 L723.20,91.57 L724.38,89.38 L725.56,87.26 L726.73,85.21 L727.91,83.24 L729.09,81.33 L730.27,79.49 L731.45,77.71 L732.63,76.00 L733.81,74.34 L734.98,72.75 L736.16,71.21 L737.34,69.73 L738.52,68.30 L739.70,66.93 L740.88,65.60 L742.06,64.32 L743.23,63.09 L744.41,61.91 L745.59,60.77 L746.77,59.67 L747.95,58.61 L749.13,57.60 L750.31,56.62 L751.49,55.67 L752.66,54.77 L753.84,53.90 L755.02,53.06 L756.20,52.25" fill="none" stroke="#ff0000" stroke-width="4.3" stroke-linejoin="round"/>
<path d="M159.65,620.00h16.40M167.85,611.80v16.40M204.66,620.00h16.40M212.86,611.80v16.40M236.59,620.00h16.40M244.79,611.80v16.40M261.36,620.00h16.40M269.56,611.80v16.40M281.60,620.00h16.40M289.80,611.80v16.40M298.71,620.00h16.40M306.91,611.80v16.40M313.53,620.00h16.40M321.73,611.80v16.40M326.61,620.00h16.40M334.81,611.80v16.40M338.30,620.00h16.40M346.50,611.80v16.40M348.88,620.00h16.40M357.08,611.80v16.40M358.54,620.00h16.40M366.74,611.80v16.40M367.43,619.50h16.40M375.63,611.30v16.40M375.65,618.30h16.40M383.85,610.10v16.40M383.31,617.60h16.40M391.51,609.40v16.40M390.48,616.80h16.40M398.68,608.60v16.40M397.21,615.50h16.40M405.41,607.30v16.40M403.55,614.00h16.40M411.75,605.80v16.40M409.55,612.30h16.40M417.75,604.10v16.40M415.25,610.20h16.40M423.45,602.00v16.40M420.66,608.00h16.40M428.86,599.80v16.40M425.83,605.30h16.40M434.03,597.10v16.40M430.76,602.50h16.40M438.96,594.30v16.40M435.49,598.80h16.40M443.69,590.60v16.40M440.02,594.10h16.40M448.22,585.90v16.40M444.37,590.00h16.40M452.57,581.80v16.40M448.56,585.90h16.40M456.76,577.70v16.40M452.60,581.40h16.40M460.80,573.20v16.40M456.49,576.50h16.40M464.69,568.30v16.40M460.26,569.20h16.40M468.46,561.00v16.40M463.90,563.00h16.40M472.10,554.80v16.40M467.42,555.00h16.40M475.62,546.80v16.40M470.84,546.40h16.40M479.04,538.20v16.40M474.15,537.10h16.40M482.35,528.90v16.40M477.37,527.00h16.40M485.57,518.80v16.40M480.49,517.90h16.40M488.69,509.70v16.40M483.54,507.20h16.40M491.74,499.00v16.40M486.50,493.90h16.40M494.70,485.70v16.40M489.38,483.50h16.40M497.58,475.30v16.40M492.19,471.50h16.40M500.39,463.30v16.40M494.93,459.60h16.40M503.13,451.40v16.40M497.61,446.80h16.40M505.81,438.60v16.40M500.22,433.70h16.40M508.42,425.50v16.40M502.77,422.30h16.40M510.97,414.10v16.40M505.26,408.50h16.40M513.46,400.30v16.40M507.70,395.90h16.40M515.90,387.70v16.40M510.09,384.20h16.40M518.29,376.00v16.40M512.43,372.00h16.40M520.63,363.80v16.40M514.72,359.70h16.40M522.92,351.50v16.40M516.96,346.70h16.40M525.16,338.50v16.40M519.16,336.30h16.40M527.36,328.10v16.40M521.31,323.30h16.40M529.51,315.10v16.40M523.43,311.50h16.40M531.63,303.30v16.40M525.50,300.40h16.40M533.70,292.20v16.40M527.54,289.80h16.40M535.74,281.60v16.40M529.54,278.40h16.40M537.74,270.20v16.40M531.51,267.70h16.40M539.71,259.50v16.40M533.44,258.30h16.40M541.64,250.10v16.40M535.33,247.90h16.40M543.53,239.70v16.40M537.20,238.30h16.40M545.40,230.10v16.40M539.03,228.90h16.40M547.23,220.70v16.40M540.84,219.20h16.40M549.04,211.00v16.40M542.61,208.40h16.40M550.81,200.20v16.40M544.36,198.50h16.40M552.56,190.30v16.40M546.08,190.60h16.40M554.28,182.40v16.40M547.78,182.80h16.40M555.98,174.60v16.40M549.45,178.70h16.40M557.65,170.50v16.40M551.09,171.90h16.40M559.29,163.70v16.40M552.71,166.00h16.40M560.91,157.80v16.40M554.31,161.40h16.40M562.51,153.20v16.40M555.89,157.30h16.40M564.09,149.10v16.40M557.44,153.00h16.40M565.64,144.80v16.40M558.97,148.10h16.40M567.17,139.90v16.40M560.48,145.50h16.40M568.68,137.30v16.40M561.97,139.90h16.40M570.17,131.70v16.40M211.89,620.00h16.40M220.09,611.80v16.40M256.90,620.00h16.40M265.10,611.80v16.40M288.83,620.00h16.40M297.03,611.80v16.40M313.60,620.00h16.40M321.80,611.80v16.40M333.84,620.00h16.40M342.04,611.80v16.40M350.95,620.00h16.40M359.15,611.80v16.40M365.77,620.00h16.40M373.97,611.80v16.40M378.85,620.00h16.40M387.05,611.80v16.40M390.54,620.00h16.40M398.74,611.80v16.40M401.12,620.00h16.40M409.32,611.80v16.40M410.78,620.00h16.40M418.98,611.80v16.40M419.67,619.50h16.40M427.87,611.30v16.40M427.90,618.30h16.40M436.10,610.10v16.40M435.55,617.60h16.40M443.75,609.40v16.40M442.72,616.80h16.40M450.92,608.60v16.40M449.45,615.50h16.40M457.65,607.30v16.40M455.79,614.00h16.40M463.99,605.80v16.40M461.79,612.30h16.40M469.99,604.10v16.40M467.49,610.20h16.40M475.69,602.00v16.40M472.90,608.00h16.40M481.10,599.80v16.40M478.07,605.30h16.40M486.27,597.10v16.40M483.00,602.50h16.40M491.20,594.30v16.40M487.73,598.80h16.40M495.93,590.60v16.40M492.26,594.10h16.40M500.46,585.90v16.40M496.61,590.00h16.40M504.81,581.80v16.40M500.80,585.90h16.40M509.00,577.70v16.40M504.84,581.40h16.40M513.04,573.20v16.40M508.73,576.50h16.40M516.93,568.30v16.40M512.50,569.20h16.40M520.70,561.00v16.40M516.14,563.00h16.40M524.34,554.80v16.40M519.66,555.00h16.40M527.86,546.80v16.40M523.08,546.40h16.40M531.28,538.20v16.40M526.39,537.10h16.40M534.59,528.90v16.40M529.61,527.00h16.40M537.81,518.80v16.40M532.74,517.90h16.40M540.94,509.70v16.40M535.78,507.20h16.40M543.98,499.00v16.40M538.74,493.90h16.40M546.94,485.70v16.40M541.62,483.50h16.40M549.82,475.30v16.40M544.43,471.50h16.40M552.63,463.30v16.40M547.17,459.60h16.40M555.37,451.40v16.40M549.85,446.80h16.40M558.05,438.60v16.40M552.46,433.70h16.40M560.66,425.50v16.40M555.01,422.30h16.40M563.21,414.10v16.40M557.51,408.50h16.40M565.71,400.30v16.40M559.95,395.90h16.40M568.15,387.70v16.40M562.33,384.20h16.40M570.53,376.00v16.40M564.67,372.00h16.40M572.87,363.80v16.40M566.96,359.70h16.40M575.16,351.50v16.40M569.20,346.70h16.40M577.40,338.50v16.40M571.40,336.30h16.40M579.60,328.10v16.40M573.56,323.30h16.40M581.76,315.10v16.40M575.67,311.50h16.40M583.87,303.30v16.40M577.74,300.40h16.40M585.94,292.20v16.40M579.78,289.80h16.40M587.98,281.60v16.40M581.78,278.40h16.40M589.98,270.20v16.40M583.75,267.70h16.40M591.95,259.50v16.40M585.68,258.30h16.40M593.88,250.10v16.40M587.57,247.90h16.40M595.77,239.70v16.40M589.44,238.30h16.40M597.64,230.10v16.40M591.28,228.90h16.40M599.48,220.70v16.40M593.08,219.20h16.40M601.28,211.00v16.40M594.86,208.40h16.40M603.06,200.20v16.40M596.60,198.50h16.40M604.80,190.30v16.40M598.33,190.60h16.40M606.53,182.40v16.40M600.02,182.80h16.40M608.22,174.60v16.40M601.69,178.70h16.40M609.89,170.50v16.40M603.33,171.90h16.40M611.53,163.70v16.40M604.95,166.00h16.40M613.15,157.80v16.40M606.55,161.40h16.40M614.75,153.20v16.40M608.13,157.30h16.40M616.33,149.10v16.40M609.68,153.00h16.40M617.88,144.80v16.40M611.21,148.10h16.40M619.41,139.90v16.40M612.72,145.50h16.40M620.92,137.30v16.40M614.21,139.90h16.40M622.41,131.70v16.40" fill="none" stroke="#adadad" stroke-width="1.25"/>
<circle cx="190.96" cy="620.00" r="7.6" fill="none" stroke="#000" stroke-width="1.25"/>
<circle cx="235.97" cy="620.00" r="7.6" fill="none" stroke="#000" stroke-width="1.25"/>
<circle cx="267.91" cy="620.00" r="7.6" fill="none" stroke="#000" stroke-width="1.25"/>
<circle cx="292.68" cy="620.00" r="7.6" fill="none" stroke="#000" stroke-width="1.25"/>
<circle cx="312.92" cy="620.00" r="7.6" fill="none" stroke="#000" stroke-width="1.25"/>
<circle cx="330.03" cy="620.00" r="7.6" fill="none" stroke="#000" stroke-width="1.25"/>
<circle cx="344.85" cy="620.00" r="7.6" fill="none" stroke="#000" stroke-width="1.25"/>
<circle cx="357.93" cy="620.00" r="7.6" fill="none" stroke="#000" stroke-width="1.25"/>
<circle cx="369.62" cy="620.00" r="7.6" fill="none" stroke="#000" stroke-width="1.25"/>
<circle cx="380.20" cy="620.00" r="7.6" fill="none" stroke="#000" stroke-width="1.25"/>
<circle cx="389.86" cy="620.00" r="7.6" fill="none" stroke="#000" stroke-width="1.25"/>
<circle cx="398.74" cy="619.50" r="7.6" fill="none" stroke="#000" stroke-width="1.25"/>
<circle cx="406.97" cy="618.30" r="7.6" fill="none" stroke="#000" stroke-width="1.25"/>
<circle cx="414.63" cy="617.60" r="7.6" fill="none" stroke="#000" stroke-width="1.25"/>
<circle cx="421.79" cy="616.80" r="7.6" fill="none" stroke="#000" stroke-width="1.25"/>
<circle cx="428.52" cy="615.50" r="7.6" fill="none" stroke="#000" stroke-width="1.25"/>
<circle cx="434.87" cy="614.00" r="7.6" fill="none" stroke="#000" stroke-width="1.25"/>
<circle cx="440.87" cy="612.30" r="7.6" fill="none" stroke="#000" stroke-width="1.25"/>
<circle cx="446.56" cy="610.20" r="7.6" fill="none" stroke="#000" stroke-width="1.25"/>
<circle cx="451.98" cy="608.00" r="7.6" fill="none" stroke="#000" stroke-width="1.25"/>
<circle cx="457.14" cy="605.30" r="7.6" fill="none" stroke="#000" stroke-width="1.25"/>
<circle cx="462.08" cy="602.50" r="7.6" fill="none" stroke="#000" stroke-width="1.25"/>
<circle cx="466.80" cy="598.80" r="7.6" fill="none" stroke="#000" stroke-width="1.25"/>
<circle cx="471.33" cy="594.10" r="7.6" fill="none" stroke="#000" stroke-width="1.25"/>
<circle cx="475.69" cy="590.00" r="7.6" fill="none" stroke="#000" stroke-width="1.25"/>
<circle cx="479.88" cy="585.90" r="7.6" fill="none" stroke="#000" stroke-width="1.25"/>
<circle cx="483.91" cy="581.40" r="7.6" fill="none" stroke="#000" stroke-width="1.25"/>
<circle cx="487.81" cy="576.50" r="7.6" fill="none" stroke="#000" stroke-width="1.25"/>
<circle cx="491.57" cy="569.20" r="7.6" fill="none" stroke="#000" stroke-width="1.25"/>
<circle cx="495.21" cy="563.00" r="7.6" fill="none" stroke="#000" stroke-width="1.25"/>
<circle cx="498.74" cy="555.00" r="7.6" fill="none" stroke="#000" stroke-width="1.25"/>
<circle cx="502.15" cy="546.40" r="7.6" fill="none" stroke="#000" stroke-width="1.25"/>
<circle cx="505.47" cy="537.10" r="7.6" fill="none" stroke="#000" stroke-width="1.25"/>
<circle cx="508.68" cy="527.00" r="7.6" fill="none" stroke="#000" stroke-width="1.25"/>
<circle cx="511.81" cy="517.90" r="7.6" fill="none" stroke="#000" stroke-width="1.25"/>
<circle cx="514.85" cy="507.20" r="7.6" fill="none" stroke="#000" stroke-width="1.25"/>
<circle cx="517.81" cy="493.90" r="7.6" fill="none" stroke="#000" stroke-width="1.25"/>
<circle cx="520.70" cy="483.50" r="7.6" fill="none" stroke="#000" stroke-width="1.25"/>
<circle cx="523.51" cy="471.50" r="7.6" fill="none" stroke="#000" stroke-width="1.25"/>
<circle cx="526.25" cy="459.60" r="7.6" fill="none" stroke="#000" stroke-width="1.25"/>
<circle cx="528.92" cy="446.80" r="7.6" fill="none" stroke="#000" stroke-width="1.25"/>
<circle cx="531.54" cy="433.70" r="7.6" fill="none" stroke="#000" stroke-width="1.25"/>
<circle cx="534.09" cy="422.30" r="7.6" fill="none" stroke="#000" stroke-width="1.25"/>
<circle cx="536.58" cy="408.50" r="7.6" fill="none" stroke="#000" stroke-width="1.25"/>
<circle cx="539.02" cy="395.90" r="7.6" fill="none" stroke="#000" stroke-width="1.25"/>
<circle cx="541.41" cy="384.20" r="7.6" fill="none" stroke="#000" stroke-width="1.25"/>
<circle cx="543.75" cy="372.00" r="7.6" fill="none" stroke="#000" stroke-width="1.25"/>
<circle cx="546.04" cy="359.70" r="7.6" fill="none" stroke="#000" stroke-width="1.25"/>
<circle cx="548.28" cy="346.70" r="7.6" fill="none" stroke="#000" stroke-width="1.25"/>
<circle cx="550.48" cy="336.30" r="7.6" fill="none" stroke="#000" stroke-width="1.25"/>
<circle cx="552.63" cy="323.30" r="7.6" fill="none" stroke="#000" stroke-width="1.25"/>
<circle cx="554.75" cy="311.50" r="7.6" fill="none" stroke="#000" stroke-width="1.25"/>
<circle cx="556.82" cy="300.40" r="7.6" fill="none" stroke="#000" stroke-width="1.25"/>
<circle cx="558.86" cy="289.80" r="7.6" fill="none" stroke="#000" stroke-width="1.25"/>
<circle cx="560.86" cy="278.40" r="7.6" fill="none" stroke="#000" stroke-width="1.25"/>
<circle cx="562.82" cy="267.70" r="7.6" fill="none" stroke="#000" stroke-width="1.25"/>
<circle cx="564.75" cy="258.30" r="7.6" fill="none" stroke="#000" stroke-width="1.25"/>
<circle cx="566.65" cy="247.90" r="7.6" fill="none" stroke="#000" stroke-width="1.25"/>
<circle cx="568.52" cy="238.30" r="7.6" fill="none" stroke="#000" stroke-width="1.25"/>
<circle cx="570.35" cy="228.90" r="7.6" fill="none" stroke="#000" stroke-width="1.25"/>
<circle cx="572.16" cy="219.20" r="7.6" fill="none" stroke="#000" stroke-width="1.25"/>
<circle cx="573.93" cy="208.40" r="7.6" fill="none" stroke="#000" stroke-width="1.25"/>
<circle cx="575.68" cy="198.50" r="7.6" fill="none" stroke="#000" stroke-width="1.25"/>
<circle cx="577.40" cy="190.60" r="7.6" fill="none" stroke="#000" stroke-width="1.25"/>
<circle cx="579.10" cy="182.80" r="7.6" fill="none" stroke="#000" stroke-width="1.25"/>
<circle cx="580.77" cy="178.70" r="7.6" fill="none" stroke="#000" stroke-width="1.25"/>
<circle cx="582.41" cy="171.90" r="7.6" fill="none" stroke="#000" stroke-width="1.25"/>
<circle cx="584.03" cy="166.00" r="7.6" fill="none" stroke="#000" stroke-width="1.25"/>
<circle cx="585.63" cy="161.40" r="7.6" fill="none" stroke="#000" stroke-width="1.25"/>
<circle cx="587.20" cy="157.30" r="7.6" fill="none" stroke="#000" stroke-width="1.25"/>
<circle cx="588.76" cy="153.00" r="7.6" fill="none" stroke="#000" stroke-width="1.25"/>
<circle cx="590.29" cy="148.10" r="7.6" fill="none" stroke="#000" stroke-width="1.25"/>
<circle cx="591.80" cy="145.50" r="7.6" fill="none" stroke="#000" stroke-width="1.25"/>
<circle cx="593.29" cy="139.90" r="7.6" fill="none" stroke="#000" stroke-width="1.25"/>
<g style="filter:opacity(1)">
<text x="145.5" y="630.10" font-size="29.33" text-anchor="end">0.0</text>
<text x="145.5" y="512.52" font-size="29.33" text-anchor="end">0.2</text>
<text x="145.5" y="394.94" font-size="29.33" text-anchor="end">0.4</text>
<text x="145.5" y="277.36" font-size="29.33" text-anchor="end">0.6</text>
<text x="145.5" y="159.78" font-size="29.33" text-anchor="end">0.8</text>
<text x="145.5" y="42.20" font-size="29.33" text-anchor="end">.0</text>
<path transform="translate(104.73,42.20) scale(0.01432)" d="M708,0H522V-1140Q420,-1030 223,-950V-1116Q480,-1240 590,-1466H708Z" fill="#000"/>
<text x="168.06" y="653.9" font-size="18.5" text-anchor="middle">5</text>
<text x="188.30" y="653.9" font-size="18.5" text-anchor="middle">6</text>
<text x="321.94" y="653.9" font-size="18.5" text-anchor="middle">2</text>
<text x="366.95" y="653.9" font-size="18.5" text-anchor="middle">3</text>
<text x="398.89" y="653.9" font-size="18.5" text-anchor="middle">4</text>
<text x="423.66" y="653.9" font-size="18.5" text-anchor="middle">5</text>
<text x="443.90" y="653.9" font-size="18.5" text-anchor="middle">6</text>
<text x="577.54" y="653.9" font-size="18.5" text-anchor="middle">2</text>
<text x="622.55" y="653.9" font-size="18.5" text-anchor="middle">3</text>
<text x="654.49" y="653.9" font-size="18.5" text-anchor="middle">4</text>
<text x="679.26" y="653.9" font-size="18.5" text-anchor="middle">5</text>
<text x="699.50" y="653.9" font-size="18.5" text-anchor="middle">6</text>
<path transform="translate(222.62,691.40) scale(0.01416)" d="M708,0H522V-1140Q420,-1030 223,-950V-1116Q480,-1240 590,-1466H708Z" fill="#000"/>
<text x="238.75" y="691.4" font-size="29.0">0<tspan font-size="20.7" dy="-18.7">7</tspan></text>
<path transform="translate(478.22,691.40) scale(0.01416)" d="M708,0H522V-1140Q420,-1030 223,-950V-1116Q480,-1240 590,-1466H708Z" fill="#000"/>
<text x="494.35" y="691.4" font-size="29.0">0<tspan font-size="20.7" dy="-18.7">8</tspan></text>
<path transform="translate(734.62,691.40) scale(0.01416)" d="M708,0H522V-1140Q420,-1030 223,-950V-1116Q480,-1240 590,-1466H708Z" fill="#000"/>
<text x="750.75" y="691.4" font-size="29.0">0<tspan font-size="20.7" dy="-18.7">9</tspan></text>
<text x="462.5" y="729.2" font-size="29.15" text-anchor="middle">Electric Field [V/m]</text>
<text transform="translate(47.1,326.2) rotate(-90)" font-size="29.0" text-anchor="middle">[PL(0)-PL(F)] / PL(0)</text>
<text x="196.6" y="87.6" font-size="29.0" font-weight="bold">MDMO-PPV</text>
<circle cx="228.8" cy="112.0" r="9.0" fill="none" stroke="#000" stroke-width="1.1"/>
<text x="260.5" y="120.7" font-size="28.8">Experiment</text>
<path d="M219.8,145.4h18.2M228.9,136.2v18.4" fill="none" stroke="#adadad" stroke-width="1"/>
<text x="269.4" y="153.8" font-size="29.0">Error</text>
<text x="197.2" y="352.3" font-size="29.0" font-weight="bold">E<tspan font-size="19.5" dy="7.2">b,S</tspan></text>
<path transform="translate(246.88,359.50) scale(0.00952)" d="M806,0H525V-1059Q370,-914 160,-845V-1100Q270,-1136 400,-1236Q530,-1337 578,-1472H806Z" fill="#000"/>
<text x="267.09" y="356.00" font-size="29.0" font-weight="bold">=</text>
<path d="M201.3,382.30H256.2" stroke="#6c00e4" stroke-width="4.6" fill="none"/>
<text x="268.3" y="390.30" font-size="29.0">257 meV</text>
<path d="M201.3,415.55H256.2" stroke="#0000ff" stroke-width="4.6" fill="none"/>
<text x="268.3" y="423.55" font-size="29.0">288 meV</text>
<path d="M201.3,448.80H256.2" stroke="#00ff00" stroke-width="4.6" fill="none"/>
<text x="268.3" y="456.80" font-size="29.0">327 meV</text>
<path d="M201.3,482.05H256.2" stroke="#ffa500" stroke-width="4.6" fill="none"/>
<text x="268.3" y="490.05" font-size="29.0">379 meV</text>
<path d="M201.3,515.30H256.2" stroke="#ff0000" stroke-width="4.6" fill="none"/>
<text x="268.3" y="523.30" font-size="29.0">449 meV</text>
<path d="M471.20,294.10L675.65,331.79" stroke="#000" stroke-width="4.5" fill="none"/>
<path d="M696.30,335.60L673.73,342.22L677.57,321.37Z" fill="#000"/>
<text transform="translate(447.3,344.1) rotate(-78.7)" font-size="29.0" fill="#6c00e4">257 meV</text>
<text transform="translate(705.9,400.0) rotate(-78.7)" font-size="29.0" fill="#ff0000">449 meV</text>
</g>
</svg>
</body></html>
